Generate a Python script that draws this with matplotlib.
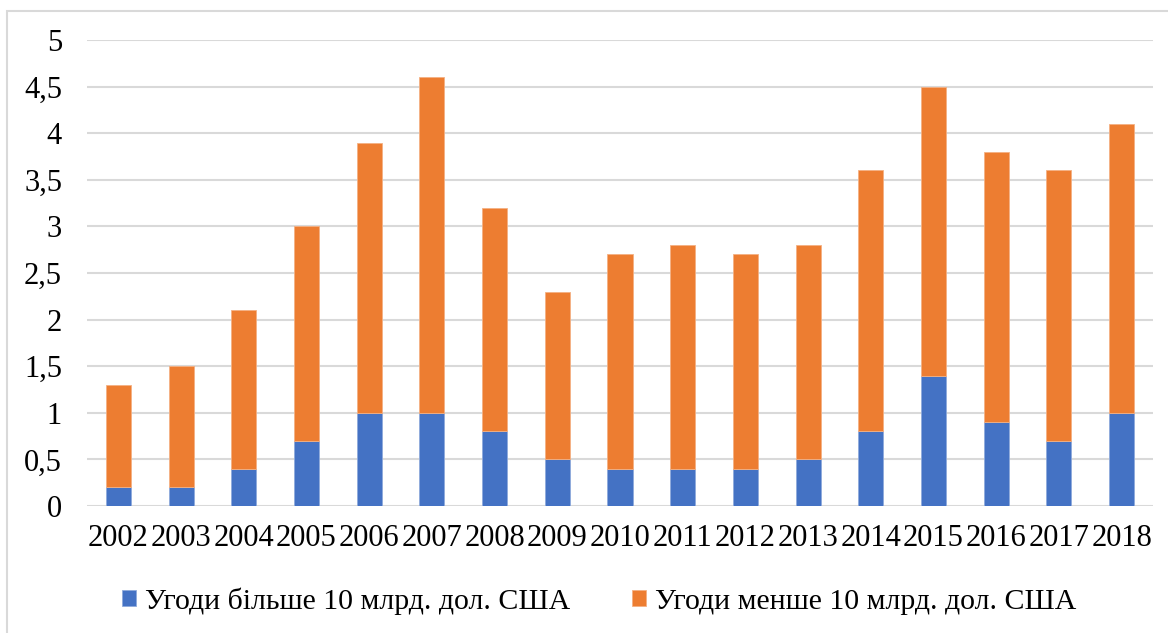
"""
Stacked bars: deals above / below 10 bn USD, 2002-2018
"""

import matplotlib as mpl
import matplotlib.pyplot as plt
from matplotlib.patches import Rectangle

mpl.use("Agg")

years = ["2002", "2003", "2004", "2005", "2006", "2007", "2008", "2009", "2010",
         "2011", "2012", "2013", "2014", "2015", "2016", "2017", "2018"]
big_deals = [0.2, 0.2, 0.4, 0.7, 1.0, 1.0, 0.8, 0.5, 0.4, 0.4, 0.4, 0.5, 0.8, 1.4, 0.9, 0.7, 1.0]
small_deals = [1.1, 1.3, 1.7, 2.3, 2.9, 3.6, 2.4, 1.8, 2.3, 2.4, 2.3, 2.3, 2.8, 3.1, 2.9, 2.9, 3.1]
y_ticks = [0, 0.5, 1, 1.5, 2, 2.5, 3, 3.5, 4, 4.5, 5]
y_labels = ["0", "0,5", "1", "1,5", "2", "2,5", "3", "3,5", "4", "4,5", "5"]
label_big = "Угоди більше 10 млрд. дол. США"
label_small = "Угоди менше 10 млрд. дол. США"

# Colors
blue = "#4472C4"
orange = "#ED7D31"
grid_gray = "#D9D9D9"

plt.rcParams["font.family"] = ["Liberation Serif", "DejaVu Serif"]

W, H = 1168, 633
fig = plt.figure(figsize=(W / 100, H / 100), dpi=100)

# chart frame (light gray border, cut at right/bottom edges)
frame = Rectangle((7 / W, -0.2), 1.2, 1.2 - 11 / H, transform=fig.transFigure,
                  facecolor="none", edgecolor=grid_gray, linewidth=1.5)
fig.patches.append(frame)

ax = fig.add_axes([87 / W, (H - 506) / H, 1066 / W, (506 - 40) / H])

x = range(len(years))
ax.bar(x, big_deals, width=0.4, color=blue, edgecolor="#8FAADC", linewidth=0.6,
       label=label_big, zorder=3)
ax.bar(x, small_deals, width=0.4, bottom=big_deals, color=orange, edgecolor="#F4B183",
       linewidth=0.6, label=label_small, zorder=3)

ax.set_xlim(-0.5, len(years) - 0.5)
ax.set_ylim(0, 5)
ax.set_yticks(y_ticks)
ax.set_yticklabels(y_labels)
ax.set_xticks(list(x))
ax.set_xticklabels(years)
ax.tick_params(axis="both", length=0, labelsize=22, colors="black")
ax.tick_params(axis="y", pad=18)
ax.tick_params(axis="x", pad=13)

ax.yaxis.grid(True, color=grid_gray, linewidth=1.5, zorder=0)
ax.set_axisbelow(True)
for s in ax.spines.values():
    s.set_visible(False)

fig.legend(
    loc="center",
    bbox_to_anchor=(0.513, 1 - 601 / H),
    ncol=2,
    frameon=False,
    fontsize=21.5,
    handlelength=0.45,
    handleheight=0.45,
    handletextpad=0.3,
    columnspacing=2.1,
)

plt.savefig("out.png", dpi=100, facecolor="white")
print("Generated: out.png")
